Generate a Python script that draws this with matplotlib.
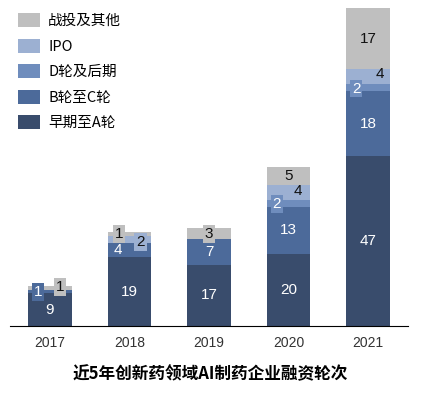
import numpy as np
import matplotlib
matplotlib.use("Agg")
import matplotlib.pyplot as plt

plt.rcParams['font.family'] = ['Liberation Sans', 'Noto Sans CJK SC', 'DejaVu Sans']

years = ['2017', '2018', '2019', '2020', '2021']
series = ['早期至A轮', 'B轮至C轮', 'D轮及后期', 'IPO', '战投及其他']
early = [9, 19, 17, 20, 47]
b_to_c = [1, 4, 7, 13, 18]
d_later = [0, 0, 0, 2, 2]
ipo = [0, 2, 0, 4, 4]
other = [1, 1, 3, 5, 17]
title = '近5年创新药领域AI制药企业融资轮次'

colors = ['#394c6c', '#4c6a9a', '#6f8dbd', '#9cb0d2', '#bfbfbf']
text_colors = ['white', 'white', 'white', '#111111', '#111111']

# label tweaks for small segments: (series index, year index) -> (dx, dy, boxed)
tweak = {
    (1, 0): (-0.15, 0, True), (4, 0): (0.13, 0.3, True),
    (1, 1): (-0.14, 0, False),
    (4, 1): (-0.13, 0, True), (3, 1): (0.14, -0.8, True),
    (4, 2): (0, 0, True),
    (2, 3): (-0.15, -0.3, True), (3, 3): (0.12, 0.3, False),
    (2, 4): (-0.15, -0.3, True), (3, 4): (0.15, 0.8, False),
}

fig = plt.figure(figsize=(4.21, 3.94), dpi=100)
ax = fig.add_axes([10 / 421, 68 / 394, 398 / 421, 318 / 394])

data = [early, b_to_c, d_later, ipo, other]
x = np.arange(len(years))
bottom = np.zeros(len(years))
for i, vals in enumerate(data):
    vals = np.array(vals, dtype=float)
    ax.bar(x, vals, 0.55, bottom=bottom, color=colors[i], label=series[i])
    for j, v in enumerate(vals):
        if v <= 0:
            continue
        dx, dy, boxed = tweak.get((i, j), (0, 0, False))
        bbox = None
        if boxed:
            bbox = dict(boxstyle='square,pad=0.12', fc=colors[i], ec='none')
        ax.text(x[j] + dx, bottom[j] + v / 2 + dy, str(int(v)), ha='center', va='center',
                fontsize=11, color=text_colors[i], bbox=bbox)
    bottom += vals

ax.set_xlim(-0.5, 4.5)
ax.set_ylim(0, 88)
ax.set_yticks([])
ax.set_xticks(x)
ax.set_xticklabels(years, fontsize=10, color='#333333')
ax.tick_params(axis='x', length=0, pad=7)
for s in ['top', 'right', 'left']:
    ax.spines[s].set_visible(False)
ax.spines['bottom'].set_color('black')

handles, labels = ax.get_legend_handles_labels()
ax.legend(handles[::-1], labels[::-1], loc='upper left', bbox_to_anchor=(-0.012, 1.025),
          frameon=False, handlelength=1.5, handleheight=1.1,
          labelspacing=0.72, handletextpad=0.55,
          prop={'family': ['Noto Sans CJK SC'], 'size': 10.5})

fig.text(0.5, 0.05, title, ha='center', va='center', fontsize=12, fontweight='bold',
         family=['Noto Sans CJK SC', 'DejaVu Sans'])

fig.savefig('out.png', dpi=100)
